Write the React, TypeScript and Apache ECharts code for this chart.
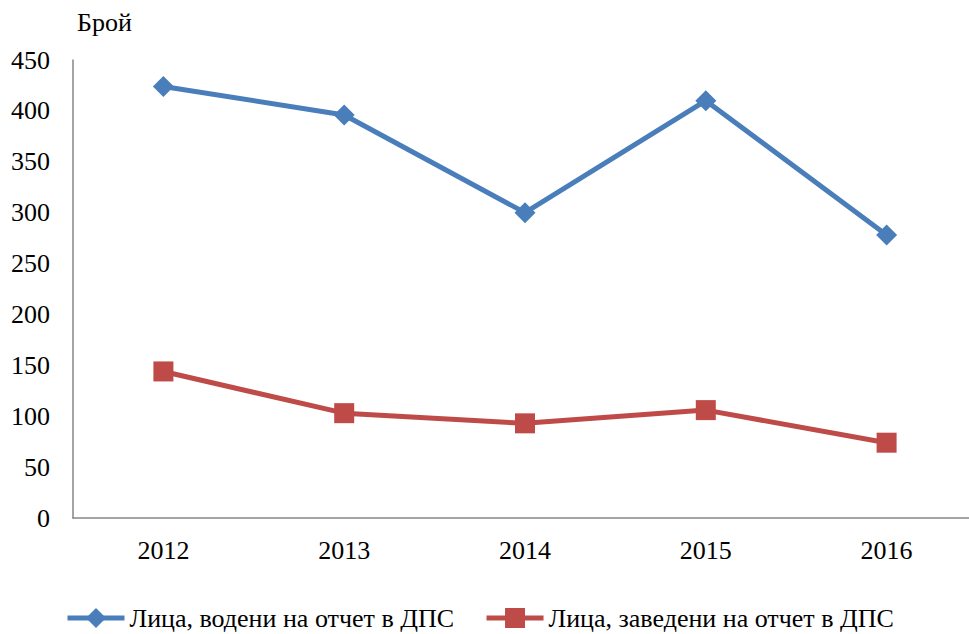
import React, { useEffect, useRef } from "react";
import * as echarts from "echarts";

const categories = ["2012", "2013", "2014", "2015", "2016"];
const seriesNames = ["Лица, водени на отчет в ДПС", "Лица, заведени на отчет в ДПС"];
const ledValues = [424, 396, 300, 410, 278];
const registeredValues = [144, 103, 93, 106, 74];
const yTitle = "Брой";

const FONT = "'Liberation Serif', 'Times New Roman', serif";

export default function App() {
  const ref = useRef<HTMLDivElement>(null);
  useEffect(() => {
    if (!ref.current) return;
    const chart = echarts.init(ref.current, null, { renderer: "svg" });
    chart.setOption({
      animation: false,
      backgroundColor: "#ffffff",
      textStyle: { fontFamily: FONT },
      title: {
        text: yTitle,
        left: 77,
        top: 9,
        padding: 0,
        textStyle: { fontFamily: FONT, fontSize: 26, fontWeight: "normal", color: "#000" },
      },
      legend: {
        left: 65,
        top: 605,
        padding: 0,
        itemWidth: 57,
        itemHeight: 25,
        itemGap: 30,
        lineStyle: { width: 5 },
        textStyle: { fontFamily: FONT, fontSize: 26, lineHeight: 24, color: "#000" },
        data: seriesNames,
      },
      grid: { left: 73, top: 60, right: 0, height: 458, containLabel: false },
      xAxis: {
        type: "category",
        data: categories,
        boundaryGap: true,
        axisLine: { lineStyle: { color: "#868686", width: 1.5 } },
        axisTick: { show: false },
        axisLabel: { fontFamily: FONT, fontSize: 26, color: "#000", margin: 19 },
        splitLine: { show: false },
      },
      yAxis: {
        type: "value",
        min: 0,
        max: 450,
        interval: 50,
        axisLine: { show: true, lineStyle: { color: "#868686", width: 1.5 } },
        axisTick: { show: false },
        axisLabel: { fontFamily: FONT, fontSize: 26, color: "#000", margin: 23 },
        splitLine: { show: false },
      },
      series: [
        {
          name: seriesNames[0],
          type: "line",
          data: ledValues,
          symbol: "diamond",
          symbolSize: 21,
          lineStyle: { color: "#4A7EBB", width: 5 },
          itemStyle: { color: "#4A7EBB" },
        },
        {
          name: seriesNames[1],
          type: "line",
          data: registeredValues,
          symbol: "rect",
          symbolSize: 20,
          lineStyle: { color: "#BE4B48", width: 5 },
          itemStyle: { color: "#BE4B48" },
        },
      ],
    });
    return () => chart.dispose();
  }, []);
  return (
    <div style={{ position: "fixed", left: 0, top: 0, width: 969, height: 634, overflow: "hidden" }}>
      <div ref={ref} style={{ position: "absolute", left: 0, top: 0, width: 977, height: 634 }} />
    </div>
  );
}
